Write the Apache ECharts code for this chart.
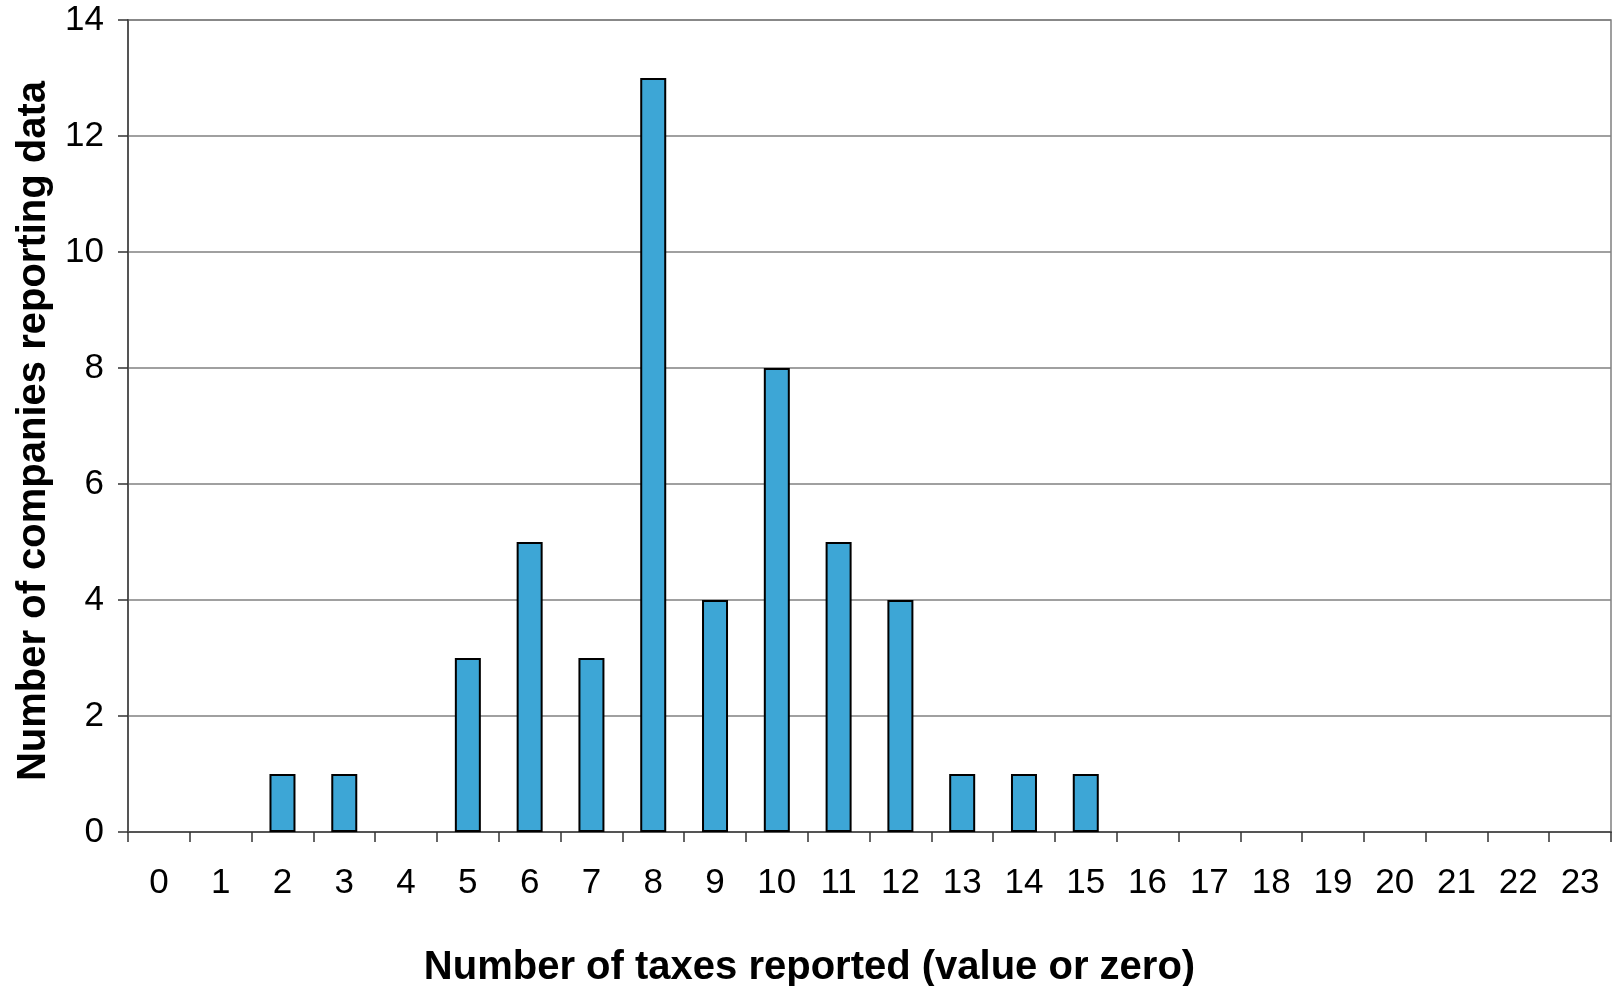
<!DOCTYPE html>
<html>
<head>
<meta charset="utf-8">
<script src="https://cdn.jsdelivr.net/npm/echarts@6/dist/echarts.min.js"></script>
<style>
  html, body { margin: 0; padding: 0; background: #fff; }
  #chart { width: 1612px; height: 986px; }
</style>
</head>
<body>
<div id="chart"></div>
<script>
// Number of taxes reported (0–23) and how many companies reported each count
const taxCounts = ['0','1','2','3','4','5','6','7','8','9','10','11','12','13','14','15','16','17','18','19','20','21','22','23'];
const companies = [0, 0, 1, 1, 0, 3, 5, 3, 13, 4, 8, 5, 4, 1, 1, 1, 0, 0, 0, 0, 0, 0, 0, 0];
const yTicks = { min: 0, max: 14, interval: 2 };

const xTitle = 'Number of taxes reported (value or zero)';
const yTitle = 'Number of companies reporting data';

const chart = echarts.init(document.getElementById('chart'), null, { renderer: 'canvas' });

const fontFamily = '"Liberation Sans", Arial, Helvetica, sans-serif';

// empty counts get no outline so nothing is drawn over the baseline
const barData = companies.map(v => v === 0 ? { value: v, itemStyle: { borderWidth: 0 } } : v);

chart.setOption({
  animation: false,
  backgroundColor: '#ffffff',
  grid: {
    left: 128, right: 1, top: 20, bottom: 154,
    outerBoundsMode: 'none',
    containLabel: false,
    show: true, borderColor: '#808080', borderWidth: 1.5, backgroundColor: 'transparent'
  },
  xAxis: {
    type: 'category',
    data: taxCounts,
    name: xTitle,
    nameLocation: 'middle',
    nameGap: 116,
    // title sits a little left of the plot centre
    nameTextStyle: { fontFamily, fontSize: 40, fontWeight: 'bold', color: '#000', padding: [0, 120, 0, 0] },
    axisLine: { show: true, lineStyle: { color: '#555', width: 2 } },
    axisTick: { show: true, length: 10, lineStyle: { color: '#333', width: 1.5 } },
    axisLabel: { fontFamily, fontSize: 35, color: '#000', margin: 34, interval: 0 },
    splitLine: { show: false }
  },
  yAxis: {
    type: 'value',
    min: yTicks.min, max: yTicks.max, interval: yTicks.interval,
    name: yTitle,
    nameLocation: 'middle',
    nameGap: 74,
    nameRotate: 90,
    nameTextStyle: { fontFamily, fontSize: 40, fontWeight: 'bold', color: '#000', padding: [0, 10, 0, 0] },
    axisLine: { show: true, lineStyle: { color: '#555', width: 2 } },
    axisTick: { show: true, length: 10, lineStyle: { color: '#333', width: 1.5 } },
    axisLabel: { fontFamily, fontSize: 35, color: '#000', margin: 24 },
    splitLine: { show: true, lineStyle: { color: '#808080', width: 1.5 } }
  },
  series: [{
    type: 'bar',
    data: barData,
    barWidth: 26,
    itemStyle: { color: '#3DA6D6', borderColor: '#000', borderWidth: 2 }
  }]
});
</script>
</body>
</html>
